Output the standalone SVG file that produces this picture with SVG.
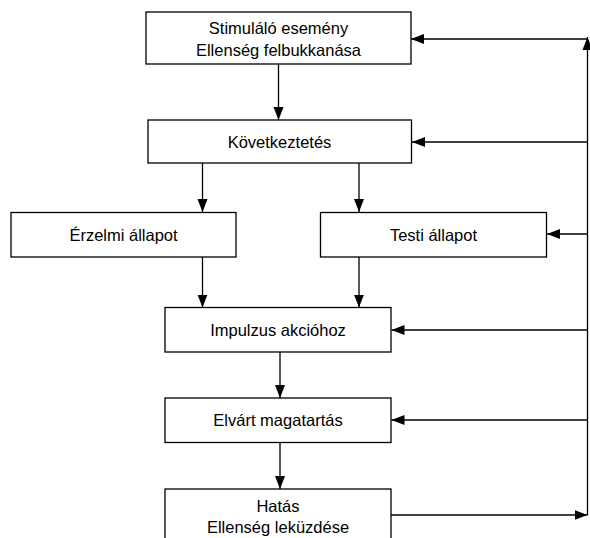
<svg xmlns="http://www.w3.org/2000/svg" width="590" height="538" viewBox="0 0 590 538">
<style>
.box{fill:#fff;stroke:#000;stroke-width:1.3}
.t{font-family:"Liberation Sans",Arial,sans-serif;font-size:16.5px;fill:#000;text-anchor:middle}
.c{fill:none;stroke:#000;stroke-width:1.3}
</style>
<defs>
<marker id="ah" markerUnits="userSpaceOnUse" markerWidth="14" markerHeight="11" refX="13" refY="5" orient="auto" viewBox="0 0 14 10">
<path d="M0,0 L13,5 L0,10 z" fill="#000"/>
</marker>
</defs>
<rect width="590" height="538" fill="#fff"/>
<g id="connectors">
<line class="c" x1="278.5" y1="64" x2="278.5" y2="120" marker-end="url(#ah)"/>
<line class="c" x1="202.5" y1="163" x2="202.5" y2="212" marker-end="url(#ah)"/>
<line class="c" x1="359" y1="163" x2="359" y2="212" marker-end="url(#ah)"/>
<line class="c" x1="202.5" y1="257" x2="202.5" y2="307.5" marker-end="url(#ah)"/>
<line class="c" x1="359" y1="257" x2="359" y2="307.5" marker-end="url(#ah)"/>
<line class="c" x1="280" y1="352" x2="280" y2="398" marker-end="url(#ah)"/>
<line class="c" x1="280" y1="442" x2="280" y2="489" marker-end="url(#ah)"/>
<line class="c" x1="391" y1="515" x2="587.5" y2="515" marker-end="url(#ah)"/>
<line class="c" x1="587.5" y1="515" x2="587.5" y2="37" marker-end="url(#ah)"/>
<line class="c" x1="587.5" y1="39" x2="411" y2="39" marker-end="url(#ah)"/>
<line class="c" x1="587.5" y1="142" x2="412" y2="142" marker-end="url(#ah)"/>
<line class="c" x1="587.5" y1="234" x2="547" y2="234" marker-end="url(#ah)"/>
<line class="c" x1="587.5" y1="330" x2="391.5" y2="330" marker-end="url(#ah)"/>
<line class="c" x1="587.5" y1="420" x2="391.5" y2="420" marker-end="url(#ah)"/>
</g>
<g id="stimulus">
<rect class="box" x="146" y="12" width="265" height="52"/>
<text class="t" x="278.5" y="34">Stimuláló esemény</text>
<text class="t" x="278.5" y="56">Ellenség felbukkanása</text>
</g>
<g id="kovetkeztetes">
<rect class="box" x="148" y="120" width="263.5" height="43"/>
<text class="t" x="279.5" y="147.5">Következtetés</text>
</g>
<g id="erzelmi">
<rect class="box" x="11" y="212.5" width="225" height="44.5"/>
<text class="t" x="123.5" y="240.5">Érzelmi állapot</text>
</g>
<g id="testi">
<rect class="box" x="320.5" y="212.5" width="226" height="44.5"/>
<text class="t" x="433.5" y="240.5">Testi állapot</text>
</g>
<g id="impulzus">
<rect class="box" x="165" y="307.5" width="226" height="44.5"/>
<text class="t" x="278" y="335.5">Impulzus akcióhoz</text>
</g>
<g id="elvart">
<rect class="box" x="165" y="398" width="226" height="44.5"/>
<text class="t" x="278" y="426">Elvárt magatartás</text>
</g>
<g id="hatas">
<rect class="box" x="165" y="489" width="226" height="60"/>
<text class="t" x="278" y="511.5">Hatás</text>
<text class="t" x="278" y="533">Ellenség leküzdése</text>
</g>
</svg>
